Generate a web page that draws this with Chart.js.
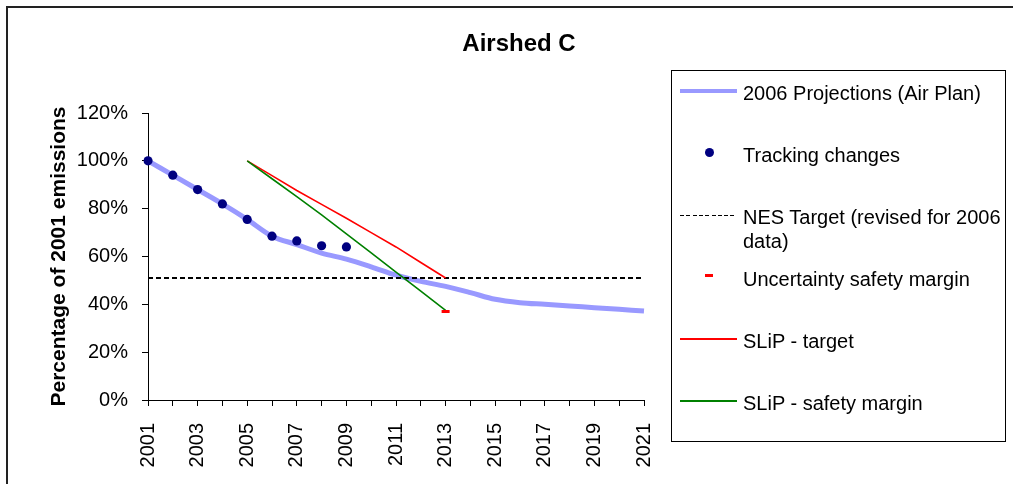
<!DOCTYPE html>
<html>
<head>
<meta charset="utf-8">
<title>Airshed C</title>
<script src="https://cdn.jsdelivr.net/npm/chart.js@4.4.0/dist/chart.umd.min.js"></script>
<style>
    html, body { margin: 0; padding: 0; background: #fff; }
    body {
        width: 1013px; height: 484px; overflow: hidden; position: relative;
        font-family: "Liberation Sans", Arial, sans-serif; color: #000;
    }
    #frame {
        position: absolute; left: 6px; top: 6px; width: 1030px; height: 520px;
        border: 2px solid #222; box-sizing: border-box;
    }
    #chart { position: absolute; left: 0; top: 0; }
    #title {
        position: absolute; left: 419px; top: 31px; width: 200px;
        text-align: center; font-weight: bold; font-size: 24px; line-height: 24px;
    }
    #legend {
        position: absolute; left: 671px; top: 70px; width: 335px; height: 372px;
        border: 1.5px solid #000; box-sizing: border-box;
    }
    .row { position: absolute; left: 0; height: 24px; width: 332px; }
    .sample { position: absolute; left: 8px; width: 57px; top: 0; height: 24px; }
    .label {
        position: absolute; left: 71px; top: 0; white-space: pre;
        font-size: 20px; line-height: 24px;
    }
</style>
</head>
<body>
<div id="frame"></div>
<canvas id="chart" width="1013" height="484"></canvas>
<div id="title">Airshed C</div>
<div id="legend"></div>

<script>
// Data (percent of 2001 emissions)
const years = ['2001', '2002', '2003', '2004', '2005', '2006', '2007', '2008', '2009', '2010', '2011',
               '2012', '2013', '2014', '2015', '2016', '2017', '2018', '2019', '2020', '2021'];

const projections = [100, 94, 88, 82, 75.5, 68.5, 65, 61.4, 58.9, 55.7, 52.2,
                     49.6, 47.5, 44.9, 42.1, 40.7, 40, 39.3, 38.6, 37.9, 37.2];
const tracking = [100, 94, 88, 82, 75.5, 68.5, 66.5, 64.5, 64, null, null,
                  null, null, null, null, null, null, null, null, null, null];
const nesTarget = [51, 51, 51, 51, 51, 51, 51, 51, 51, 51, 51,
                   51, 51, 51, 51, 51, 51, 51, 51, 51, 51];
const uncertainty = [null, null, null, null, null, null, null, null, null, null, null,
                     null, 37, null, null, null, null, null, null, null, null];
const slipTarget = [null, null, null, null, 100, 93.8, 87.6, 81.8, 76, 70, 64,
                    57.5, 51, null, null, null, null, null, null, null, null];
const slipSafety = [null, null, null, null, 100, 92.5, 85, 77.4, 69.5, 61.5, 53.5,
                    45.5, 37.5, null, null, null, null, null, null, null, null];

const yTicks = [0, 20, 40, 60, 80, 100, 120];

const seriesLabels = [
    '2006 Projections (Air Plan)',
    'Tracking changes',
    'NES Target (revised for 2006\ndata)',
    'Uncertainty safety margin',
    'SLiP - target',
    'SLiP - safety margin'
];

const FONT = '"Liberation Sans", Arial, sans-serif';

const datasets = [
    {
        label: seriesLabels[0], data: projections,
        borderColor: '#9999FF', backgroundColor: '#9999FF', borderWidth: 5,
        cubicInterpolationMode: 'monotone', pointRadius: 0, order: 6
    },
    {
        label: seriesLabels[1], data: tracking, showLine: false,
        pointStyle: 'circle', pointRadius: 4.6,
        pointBackgroundColor: '#000080', pointBorderColor: '#000080', pointBorderWidth: 0,
        borderColor: '#000080', backgroundColor: '#000080', order: 3
    },
    {
        label: seriesLabels[2], data: nesTarget,
        borderColor: '#000', backgroundColor: '#000', borderWidth: 2, borderDash: [5, 3],
        pointRadius: 0, order: 5
    },
    {
        label: seriesLabels[3], data: uncertainty, showLine: false,
        pointStyle: 'line', pointRadius: 4, pointBorderWidth: 3,
        pointBorderColor: '#FF0000', borderColor: '#FF0000', backgroundColor: '#FF0000', order: 0
    },
    {
        label: seriesLabels[4], data: slipTarget,
        borderColor: '#FF0000', backgroundColor: '#FF0000', borderWidth: 1.6,
        pointRadius: 0, spanGaps: false, order: 2
    },
    {
        label: seriesLabels[5], data: slipSafety,
        borderColor: '#008000', backgroundColor: '#008000', borderWidth: 1.6,
        pointRadius: 0, spanGaps: false, order: 1
    }
];

const chart = new Chart(document.getElementById('chart'), {
    type: 'line',
    data: { labels: years, datasets },
    options: {
        responsive: false,
        animation: false,
        devicePixelRatio: 1,
        layout: { padding: { left: 0, top: 113, right: 369, bottom: 0 } },
        plugins: {
            legend: { display: false },
            title: { display: false },
            tooltip: { enabled: false }
        },
        scales: {
            x: {
                offset: false,
                afterFit: s => { s.height = 84; },
                grid: { drawOnChartArea: false, drawTicks: true, tickLength: 6, color: '#000', lineWidth: 1 },
                border: { display: true, color: '#000', width: 1 },
                ticks: {
                    autoSkip: false, minRotation: 90, maxRotation: 90, padding: 17,
                    color: '#000', font: { family: FONT, size: 20 },
                    callback: function (v, i) { return i % 2 === 0 ? this.getLabelForValue(v) : ''; }
                }
            },
            y: {
                min: 0, max: 120,
                afterFit: s => { s.width = 148; },
                afterBuildTicks: s => { s.ticks = yTicks.map(v => ({ value: v })); },
                grid: { drawOnChartArea: false, drawTicks: true, tickLength: 6, color: '#000', lineWidth: 1 },
                border: { display: true, color: '#000', width: 1 },
                ticks: {
                    padding: 14, color: '#000', font: { family: FONT, size: 20 },
                    callback: v => v + '%'
                },
                title: {
                    display: true, text: 'Percentage of 2001 emissions', color: '#000',
                    font: { family: FONT, size: 21, weight: 'bold' },
                    padding: { top: 47, bottom: 0 }
                }
            }
        }
    }
});

// HTML legend built from the chart's datasets
function buildLegend(chart) {
    const box = document.getElementById('legend');
    const rowTop = 10, rowStep = 62;
    chart.data.datasets.forEach((ds, i) => {
        const row = document.createElement('div');
        row.className = 'row';
        row.style.top = (rowTop + i * rowStep) + 'px';

        const sample = document.createElement('div');
        sample.className = 'sample';
        const mark = document.createElement('div');
        mark.style.position = 'absolute';
        if (ds.pointStyle === 'circle') {
            mark.style.left = '25px'; mark.style.top = '5px';
            mark.style.width = '9px'; mark.style.height = '9px';
            mark.style.borderRadius = '50%';
            mark.style.background = ds.pointBackgroundColor;
        } else if (ds.pointStyle === 'line') {
            mark.style.left = '25px'; mark.style.top = '7px';
            mark.style.width = '8px'; mark.style.height = '3px';
            mark.style.background = ds.pointBorderColor;
        } else if (ds.borderDash) {
            mark.style.left = '0'; mark.style.top = '10px';
            mark.style.width = '57px'; mark.style.height = '1.3px';
            mark.style.background = 'repeating-linear-gradient(90deg, ' + ds.borderColor +
                ' 0 4px, transparent 4px 6.3px)';
        } else {
            const w = Math.min(ds.borderWidth, 3.5);
            mark.style.left = '0'; mark.style.top = (10 - w / 2) + 'px';
            mark.style.width = '57px'; mark.style.height = w + 'px';
            mark.style.background = ds.borderColor;
        }
        sample.appendChild(mark);

        const label = document.createElement('div');
        label.className = 'label';
        label.textContent = ds.label;

        row.appendChild(sample);
        row.appendChild(label);
        box.appendChild(row);
    });
}
buildLegend(chart);
</script>
</body>
</html>
